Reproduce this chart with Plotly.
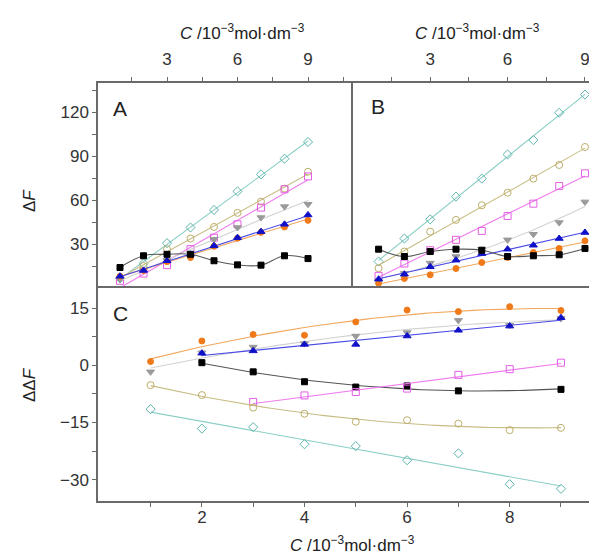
import numpy as np
import plotly.graph_objects as go

C = [1, 2, 3, 4, 5, 6, 7, 8, 9]

# Panel A (ΔF)
A_black = [14, 22, 23, 23, 18.6, 15.8, 15.6, 22, 20.1]
A_cyan = [6.5, 16.7, 30.6, 41.3, 53.3, 66, 77.6, 88.3, 99.7]
A_olive = [7, 15, 26.5, 33.8, 41.7, 51.3, 59, 67.9, 79.4]
A_pink = [4.9, 9.9, 15.6, 26.5, 34.4, 43.5, 54.9, 67.4, 76.2]
A_gray = [6, 12, 18.8, 23.5, 33.3, 41.3, 48.1, 55.6, 57.2]
A_blue = [8, 12, 18.6, 23, 28.8, 34.4, 38.5, 43.5, 49.9]
A_orange = [8, 12, 18, 20.8, 28.5, 34, 38, 41.7, 46.2]

# Panel B (ΔF)
B_black = [26.5, 21.5, 24.9, 26.5, 25.8, 21.5, 22, 22.7, 27]
B_cyan = [18.1, 33.8, 46.9, 62.4, 74.7, 91.2, 101, 119.7, 132.1]
B_olive = [13.5, 24.9, 38.5, 46.5, 56.5, 65.1, 74.7, 84, 96.3]
B_pink = [8.3, 16.7, 25.8, 32.9, 39, 49.2, 57.6, 69.7, 78.3]
B_gray = [5, 10, 17, 21.5, 26.5, 32.9, 36.7, 44.7, 58.8]
B_blue = [6, 9.4, 14.5, 19, 23.5, 26.5, 29.2, 33.8, 37.9]
B_orange = [3.3, 6.5, 9, 13.3, 17.4, 20.8, 24.2, 27, 32.2]

# Panel C (ΔΔF)
C_orange = [1.0, 6.4, 8.1, 7.9, 11.4, 14.5, 14.1, 15.4, 14.4]
C_gray = [-1.7, 3.3, 4.8, 5.7, 7.7, 8.6, 11.8, 10.5, 12.3]
C_blue_x = [2, 3, 4, 5, 6, 7, 8, 9]
C_blue = [3.2, 3.8, 5.5, 5.5, 7.7, 9.2, 10.3, 12.5]
C_black_x = [2, 3, 4, 5, 6, 7, 9]
C_black = [0.7, -1.7, -4.3, -5.7, -5.4, -6.7, -6.3]
C_pink_x = [3, 4, 5, 6, 7, 8, 9]
C_pink = [-9.6, -7.9, -7.0, -6.1, -2.5, -1.0, 0.7]
C_olive = [-5.2, -7.8, -11.1, -12.7, -14.8, -14.4, -15.3, -17.0, -16.4]
C_cyan = [-11.5, -16.6, -16.2, -20.7, -21.2, -24.9, -23.1, -31.2, -32.4]

STY = {
    "black": dict(m="#000000", l="#555555", sym="square", size=6),
    "cyan": dict(m="#5fb5ad", l="#8ccfc6", sym="diamond-open", size=7),
    "olive": dict(m="#bcae6a", l="#c9bd85", sym="circle-open", size=7),
    "pink": dict(m="#e35ee3", l="#f07cf0", sym="square-open", size=7),
    "gray": dict(m="#9a9a9a", l="#d2d2d2", sym="triangle-down", size=7),
    "blue": dict(m="#1010c8", l="#4a4ae6", sym="triangle-up", size=7),
    "orange": dict(m="#f07a1a", l="#f2a75c", sym="circle", size=6),
}

fig = go.Figure()


def add(x, y, key, xa, ya, fit=1):
    s = STY[key]
    x = np.asarray(x, float)
    y = np.asarray(y, float)
    if fit == "spline":
        fig.add_trace(go.Scatter(x=x, y=y, mode="lines", line=dict(color=s["l"], width=1.1, shape="spline", smoothing=1.1),
                                 xaxis=xa, yaxis=ya, hoverinfo="skip", showlegend=False))
    else:
        p = np.polyfit(x, y, fit)
        xs = np.linspace(x.min(), x.max(), 60)
        fig.add_trace(go.Scatter(x=xs, y=np.polyval(p, xs), mode="lines", line=dict(color=s["l"], width=1.1),
                                 xaxis=xa, yaxis=ya, hoverinfo="skip", showlegend=False))
    fig.add_trace(go.Scatter(x=x, y=y, mode="markers",
                             marker=dict(symbol=s["sym"], size=s["size"], color=s["m"], line=dict(color=s["m"], width=1)),
                             xaxis=xa, yaxis=ya, showlegend=False))


# Panel A
add(C, A_cyan, "cyan", "x", "y", 1)
add(C, A_olive, "olive", "x", "y", 1)
add(C, A_pink, "pink", "x", "y", 1)
add(C, A_gray, "gray", "x", "y", 2)
add(C, A_orange, "orange", "x", "y", 1)
add(C, A_blue, "blue", "x", "y", 1)
add(C, A_black, "black", "x", "y", "spline")

# Panel B
add(C, B_cyan, "cyan", "x2", "y2", 1)
add(C, B_olive, "olive", "x2", "y2", 1)
add(C, B_pink, "pink", "x2", "y2", 1)
add(C, B_gray, "gray", "x2", "y2", 2)
add(C, B_orange, "orange", "x2", "y2", 1)
add(C, B_blue, "blue", "x2", "y2", 1)
add(C, B_black, "black", "x2", "y2", "spline")

# Panel C
add(C, C_orange, "orange", "x3", "y3", 2)
add(C, C_gray, "gray", "x3", "y3", 2)
add(C_blue_x, C_blue, "blue", "x3", "y3", 1)
add(C_black_x, C_black, "black", "x3", "y3", 2)
add(C_pink_x, C_pink, "pink", "x3", "y3", 1)
add(C, C_olive, "olive", "x3", "y3", 2)
add(C, C_cyan, "cyan", "x3", "y3", 1)

W, H = 597, 556
FONT = "Liberation Sans, Arial, sans-serif"
AX = dict(showgrid=False, zeroline=False, showline=True, linecolor="#6a6a6a", linewidth=1.5,
          ticks="outside", ticklen=4, tickcolor="#6a6a6a", tickwidth=1,
          tickfont=dict(family=FONT, size=17, color="#333333"), tickmode="array")

def px_x(p):
    return p / W

def px_y(p):
    return 1 - p / H

top_a = [1.5, 3, 4.5, 6, 7.5, 9, 10.5]
top_b = [1.5, 3, 4.5, 6, 7.5, 9]
lab_top_a = ["", "3", "", "6", "", "9", ""]
lab_top_b = ["", "3", "", "6", "", "9"]
yA = [15, 30, 45, 60, 75, 90, 105, 120, 135]
yA_lab = ["", "30", "", "60", "", "90", "", "120", ""]
xC = [1, 2, 3, 4, 5, 6, 7, 8, 9]
xC_lab = ["", "2", "", "4", "", "6", "", "8", ""]
yC = [-30, -22.5, -15, -7.5, 0, 7.5, 15]
yC_lab = ["\u221230", "", "\u221215", "", "0", "", "15"]

fig.update_layout(
    width=W, height=H, margin=dict(l=0, r=0, t=0, b=0),
    paper_bgcolor="white", plot_bgcolor="white", showlegend=False,
    xaxis=dict(AX, domain=[px_x(90), px_x(345)], range=[0.064, 10.915], side="top", anchor="y",
               tickvals=top_a, ticktext=lab_top_a, ticklabelstandoff=5),
    yaxis=dict(AX, domain=[px_y(280), px_y(75)], range=[0, 140], anchor="x",
               tickvals=yA, ticktext=yA_lab),
    xaxis2=dict(AX, domain=[px_x(345), px_x(594)], range=[0.008, 9.66], side="top", anchor="y2",
                tickvals=top_b, ticktext=lab_top_b, ticklabelstandoff=5),
    yaxis2=dict(AX, domain=[px_y(280), px_y(75)], range=[0, 140], anchor="x2",
                showticklabels=False, ticks=""),
    xaxis3=dict(AX, domain=[px_x(90), 1.0], range=[-0.025, 9.858], anchor="y3", mirror=True,
                tickvals=xC, ticktext=xC_lab, ticklabelstandoff=-4),
    yaxis3=dict(AX, domain=[px_y(493), px_y(280)], range=[-35.6, 20.3], anchor="x3",
                tickvals=yC, ticktext=yC_lab),
)

unit = "<i>C</i> /10<sup>\u22123</sup>mol\u00b7dm<sup>\u22123</sup>"
ann = [
    dict(x=px_x(234), y=px_y(24), text=unit, size=17, angle=0),
    dict(x=px_x(469), y=px_y(24), text=unit, size=17, angle=0),
    dict(x=px_x(345), y=px_y(536), text=unit, size=17, angle=0),
    dict(x=px_x(21), y=px_y(193), text="\u0394<i>F</i>", size=17, angle=-90),
    dict(x=px_x(21), y=px_y(377), text="\u0394\u0394<i>F</i>", size=17, angle=-90),
    dict(x=px_x(112), y=px_y(100), text="A", size=21, angle=0),
    dict(x=px_x(370), y=px_y(98), text="B", size=21, angle=0),
    dict(x=px_x(112), y=px_y(305), text="C", size=21, angle=0),
]
for a in ann:
    fig.add_annotation(x=a["x"], y=a["y"], xref="paper", yref="paper", text=a["text"], showarrow=False,
                       textangle=a["angle"], xanchor="center", yanchor="middle",
                       font=dict(family=FONT, size=a["size"], color="#222222"))

fig.write_html("out.html")
